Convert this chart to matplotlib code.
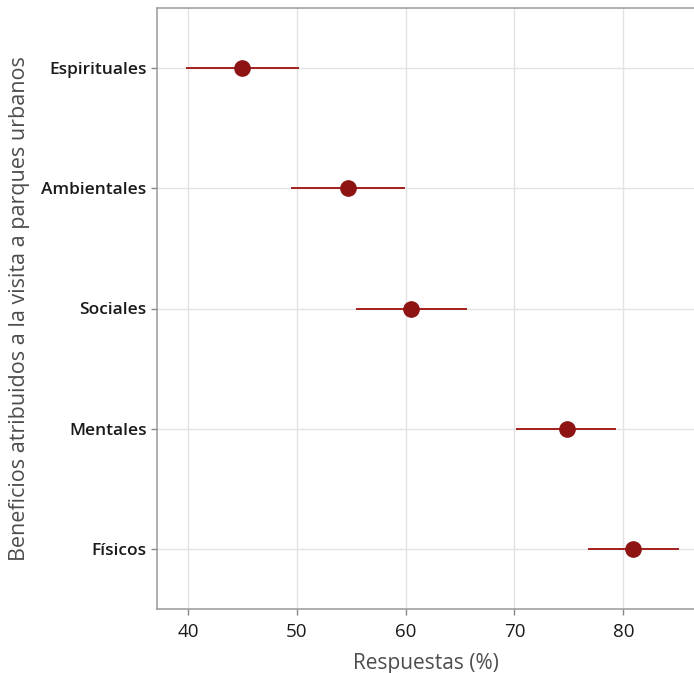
import matplotlib.pyplot as plt

# Beneficios percibidos y su intervalo
categorias = ['Físicos', 'Mentales', 'Sociales', 'Ambientales', 'Espirituales']
respuestas = [80.9, 74.8, 60.5, 54.7, 45.0]
limite_inf = [76.8, 70.1, 55.4, 49.5, 39.8]
limite_sup = [85.1, 79.3, 65.6, 59.9, 50.2]

rojo = '#8e1414'
posiciones = list(range(1, len(categorias) + 1))

fig = plt.figure(figsize=(6.94, 6.73), dpi=100)
ax = fig.add_axes([157 / 694, 1 - 609 / 673, 537 / 694, 601 / 673])

# Intervalos y puntos
ax.hlines(posiciones, limite_inf, limite_sup, color='#a31f1f', linewidth=1.4, zorder=3)
ax.plot(respuestas, posiciones, 'o', color=rojo, markersize=11, zorder=4)

ax.set_xlim(37.15, 86.5)
ax.set_ylim(0.5, 5.5)
ax.set_xticks([40, 50, 60, 70, 80])
ax.set_yticks(posiciones)
ax.set_yticklabels(categorias)

ax.grid(True, color='#e3e3e3', linewidth=1.0)
ax.set_axisbelow(True)

for lado in ['left', 'bottom', 'top']:
    ax.spines[lado].set_color('#9a9a9a')
    ax.spines[lado].set_linewidth(1.1)
ax.spines['right'].set_visible(False)

ax.tick_params(axis='both', colors='#888888', length=4, width=1)
ax.tick_params(axis='x', pad=6)
for et in ax.get_yticklabels():
    et.set_fontfamily('Open Sans')
    et.set_fontsize(12.5)
    et.set_fontweight('semibold')
    et.set_color('#1a1a1a')
for et in ax.get_xticklabels():
    et.set_fontfamily('Open Sans')
    et.set_fontsize(13.5)
    et.set_color('#1a1a1a')

ax.set_xlabel('Respuestas (%)', fontfamily='Open Sans', fontsize=15, color='#4d4d4d', labelpad=9)
ax.set_ylabel('Beneficios atribuidos a la visita a parques urbanos', fontfamily='Open Sans',
              fontsize=15.5, color='#4d4d4d', labelpad=8)

fig.savefig('out.png', dpi=100)
